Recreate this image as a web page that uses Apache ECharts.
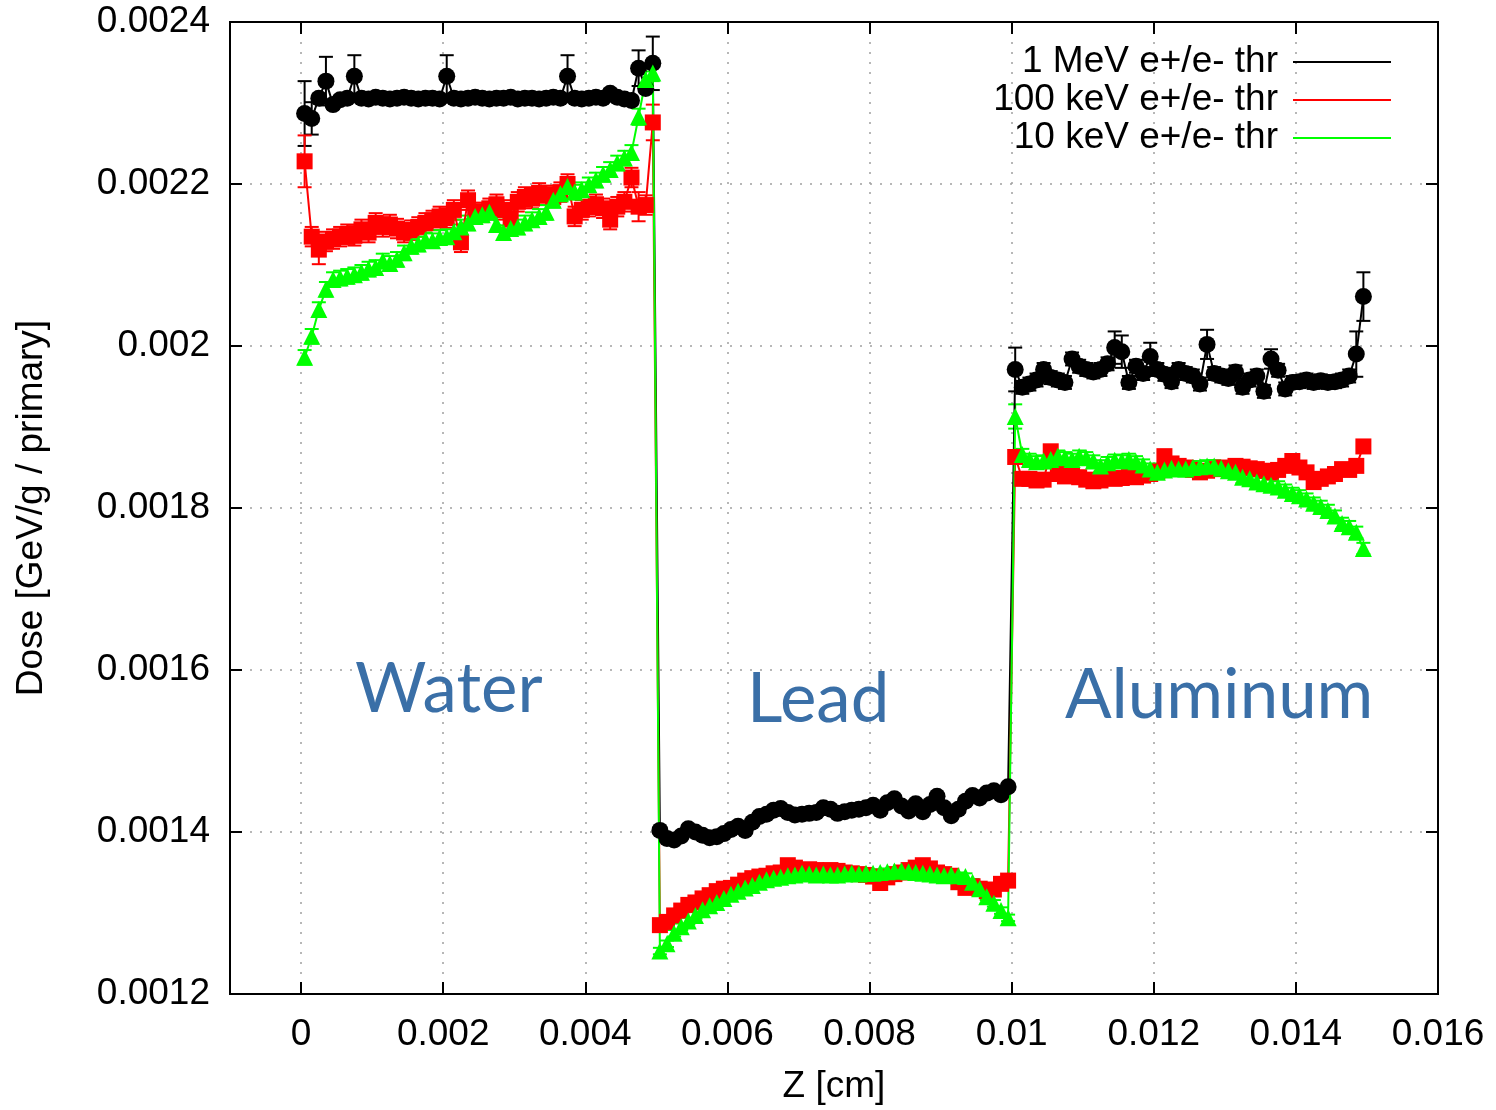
<!DOCTYPE html>
<html>
<head>
<meta charset="utf-8">
<title>Dose vs Z</title>
<script src="https://cdn.jsdelivr.net/npm/echarts@6/dist/echarts.min.js"></script>
<style>
  html, body { margin: 0; padding: 0; background: #fff; }
  #chart { width: 1496px; height: 1110px; }
</style>
</head>
<body>
<div id="chart"></div>
<script>
// bins: 50 per slab, 0.0001 cm wide
var slabStart = [0, 0.005, 0.01];
var binWidth = 0.0001;

var xTicks = [0, 0.002, 0.004, 0.006, 0.008, 0.01, 0.012, 0.014, 0.016];

var seriesNames = ['1 MeV e+/e- thr', '100 keV e+/e- thr', '10 keV e+/e- thr'];

// 1 MeV threshold (black)
var blackWater = [0.002287, 0.002281, 0.002306, 0.002327, 0.002298, 0.002304, 0.002306, 0.002333, 0.002306, 0.002305,
  0.002307, 0.002306, 0.002305, 0.002306, 0.002307, 0.002306, 0.002305, 0.002306, 0.002306, 0.002305,
  0.002333, 0.002306, 0.002305, 0.002306, 0.002307, 0.002306, 0.002305, 0.002306, 0.002306, 0.002307,
  0.002305, 0.002306, 0.002306, 0.002305, 0.002306, 0.002307, 0.002306, 0.002333, 0.002306, 0.002305,
  0.002306, 0.002307, 0.002306, 0.002312, 0.002307, 0.002305, 0.002303, 0.002343, 0.002318, 0.002349];
var blackLead = [0.001402, 0.001392, 0.001390, 0.001395, 0.001404, 0.001400, 0.001396, 0.001393, 0.001394, 0.001398,
  0.001403, 0.001407, 0.001402, 0.001412, 0.001419, 0.001422, 0.001427, 0.001429, 0.001424, 0.001421,
  0.001422, 0.001423, 0.001424, 0.001430, 0.001428, 0.001423, 0.001425, 0.001427, 0.001428, 0.001430,
  0.001433, 0.001427, 0.001436, 0.001441, 0.001432, 0.001426, 0.001435, 0.001425, 0.001434, 0.001444,
  0.001430, 0.001420, 0.001428, 0.001438, 0.001445, 0.001442, 0.001448, 0.001451, 0.001446, 0.001456];
var blackAl = [0.001971, 0.001949, 0.001953, 0.001958, 0.001971, 0.001961, 0.001958, 0.001955, 0.001984, 0.001975,
  0.001971, 0.001968, 0.001971, 0.001978, 0.001998, 0.001993, 0.001955, 0.001975, 0.001966, 0.001987,
  0.001971, 0.001965, 0.001956, 0.001971, 0.001966, 0.001963, 0.001953, 0.002002, 0.001966, 0.001963,
  0.001960, 0.001968, 0.001949, 0.001958, 0.001963, 0.001944, 0.001984, 0.001970, 0.001947, 0.001955,
  0.001956, 0.001958, 0.001955, 0.001957, 0.001955, 0.001956, 0.001958, 0.001963, 0.001990, 0.002061];

// 100 keV threshold (red)
var redWater = [0.002228, 0.002135, 0.002119, 0.002129, 0.002132, 0.002135, 0.002138, 0.002136, 0.002144, 0.002140,
  0.002152, 0.002147, 0.002150, 0.002145, 0.002140, 0.002143, 0.002147, 0.002152, 0.002155, 0.002160,
  0.002158, 0.002168, 0.002128, 0.002180, 0.002163, 0.002165, 0.002170, 0.002175, 0.002168, 0.002156,
  0.002178, 0.002184, 0.002182, 0.002189, 0.002186, 0.002184, 0.002190, 0.002200, 0.002160, 0.002168,
  0.002172, 0.002175, 0.002170, 0.002156, 0.002172, 0.002178, 0.002208, 0.002172, 0.002174, 0.002276];
var redLead = [0.001285, 0.001289, 0.001297, 0.001303, 0.001310, 0.001313, 0.001318, 0.001322, 0.001327, 0.001330,
  0.001331, 0.001335, 0.001340, 0.001343, 0.001345, 0.001346, 0.001349, 0.001350, 0.001359, 0.001356,
  0.001353, 0.001354, 0.001353, 0.001352, 0.001353, 0.001352, 0.001350, 0.001349, 0.001348, 0.001347,
  0.001345, 0.001337, 0.001344, 0.001348, 0.001350, 0.001353, 0.001356, 0.001359, 0.001355, 0.001350,
  0.001348, 0.001346, 0.001338, 0.001331, 0.001333, 0.001330, 0.001327, 0.001329, 0.001336, 0.001340];
var redAl = [0.001863, 0.001836, 0.001836, 0.001834, 0.001835, 0.001870, 0.001842, 0.001839, 0.001841, 0.001838,
  0.001835, 0.001833, 0.001834, 0.001838, 0.001836, 0.001837, 0.001839, 0.001838, 0.001840, 0.001842,
  0.001845, 0.001864, 0.001855, 0.001852, 0.001850, 0.001847, 0.001844, 0.001846, 0.001848, 0.001850,
  0.001849, 0.001852, 0.001851, 0.001849, 0.001848, 0.001846, 0.001844, 0.001847, 0.001852, 0.001858,
  0.001850, 0.001844, 0.001832, 0.001836, 0.001839, 0.001842, 0.001848, 0.001847, 0.001852, 0.001876];

// 10 keV threshold (green)
var greenWater = [0.001986, 0.002012, 0.002045, 0.002070, 0.002082, 0.002084, 0.002086, 0.002088, 0.002091, 0.002095,
  0.002097, 0.002105, 0.002102, 0.002107, 0.002115, 0.002123, 0.002126, 0.002131, 0.002130, 0.002134,
  0.002135, 0.002141, 0.002147, 0.002152, 0.002160, 0.002162, 0.002165, 0.002150, 0.002140, 0.002145,
  0.002147, 0.002152, 0.002156, 0.002160, 0.002165, 0.002180, 0.002188, 0.002197, 0.002190, 0.002193,
  0.002199, 0.002205, 0.002212, 0.002218, 0.002226, 0.002232, 0.002239, 0.002283, 0.002329, 0.002337];
var greenLead = [0.001253, 0.001262, 0.001275, 0.001283, 0.001290, 0.001297, 0.001304, 0.001309, 0.001313, 0.001318,
  0.001323, 0.001327, 0.001331, 0.001334, 0.001338, 0.001341, 0.001343, 0.001344, 0.001346, 0.001347,
  0.001349, 0.001348, 0.001347, 0.001348, 0.001347, 0.001347, 0.001348, 0.001349, 0.001348, 0.001349,
  0.001349, 0.001350, 0.001351, 0.001352, 0.001352, 0.001351, 0.001350, 0.001349, 0.001348, 0.001347,
  0.001346, 0.001347, 0.001346, 0.001345, 0.001338, 0.001330, 0.001320, 0.001312, 0.001303, 0.001294];
var greenAl = [0.001913, 0.001866, 0.001860, 0.001857, 0.001858, 0.001860, 0.001864, 0.001862, 0.001860, 0.001864,
  0.001862, 0.001858, 0.001852, 0.001856, 0.001859, 0.001858, 0.001860, 0.001857, 0.001853, 0.001848,
  0.001844, 0.001847, 0.001849, 0.001848, 0.001848, 0.001850, 0.001851, 0.001852, 0.001852, 0.001849,
  0.001846, 0.001844, 0.001838, 0.001836, 0.001832, 0.001830, 0.001828, 0.001826, 0.001822, 0.001818,
  0.001815, 0.001811, 0.001806, 0.001802, 0.001797, 0.001790, 0.001781, 0.001777, 0.001770, 0.001750];

// statistical errors: typical value per slab, plus the larger ones [point index, error]
var blackErr = [0.000005, 0.000004, 0.000008];
var blackErrBig = [[0, 0.00004], [1, 0.00002], [3, 0.00003], [7, 0.000026], [20, 0.000026], [37, 0.000026],
  [47, 0.000022], [49, 0.000033], [100, 0.000027], [114, 0.00002], [115, 0.00002], [119, 0.000017],
  [127, 0.000018], [136, 0.000012], [148, 0.000028], [149, 0.00003]];
var redErr = [0.000012, 0.000004, 0.000006];
var redErrBig = [[0, 0.000032], [2, 0.000018], [47, 0.000018], [49, 0.000022]];
var greenErr = [0.000009, 0.000004, 0.000007];
var greenErrBig = [[47, 0.00001], [48, 0.00001], [49, 0.00001], [100, 0.000015]];

var font = 'Liberation Sans, Arial, Helvetica, sans-serif';
var fsize = 37;

function buildPoints(slabs, errs, big) {
  var pts = [];
  slabs.forEach(function (vals, s) {
    vals.forEach(function (v, i) {
      pts.push([slabStart[s] + (i + 0.5) * binWidth, v, errs[s]]);
    });
  });
  big.forEach(function (b) { pts[b[0]][2] = b[1]; });
  return pts;
}

var sets = [
  { name: seriesNames[0], color: '#000000', symbol: 'circle', size: 17,
    pts: buildPoints([blackWater, blackLead, blackAl], blackErr, blackErrBig) },
  { name: seriesNames[1], color: '#ff0000', symbol: 'rect', size: 16,
    pts: buildPoints([redWater, redLead, redAl], redErr, redErrBig) },
  { name: seriesNames[2], color: '#00ff00', symbol: 'triangle', size: 17,
    pts: buildPoints([greenWater, greenLead, greenAl], greenErr, greenErrBig) }
];

function errorBars(color) {
  return function (params, api) {
    var x = api.value(0), y = api.value(1), e = api.value(2);
    var top = api.coord([x, y + e]);
    var bot = api.coord([x, y - e]);
    var w = 7;
    var st = { stroke: color, lineWidth: 2 };
    return {
      type: 'group',
      children: [
        { type: 'line', shape: { x1: top[0], y1: top[1], x2: bot[0], y2: bot[1] }, style: st },
        { type: 'line', shape: { x1: top[0] - w, y1: top[1], x2: top[0] + w, y2: top[1] }, style: st },
        { type: 'line', shape: { x1: bot[0] - w, y1: bot[1], x2: bot[0] + w, y2: bot[1] }, style: st }
      ]
    };
  };
}

var series = [];
sets.forEach(function (s) {
  series.push({
    type: 'custom',
    renderItem: errorBars(s.color),
    data: s.pts,
    encode: { x: 0, y: 1 },
    itemStyle: { color: s.color },
    silent: true,
    z: 2
  });
  series.push({
    type: 'line',
    name: s.name,
    data: s.pts.map(function (p) { return [p[0], p[1]]; }),
    color: s.color,
    symbol: s.symbol,
    symbolSize: s.size,
    showAllSymbol: true,
    lineStyle: { color: s.color, width: 2 },
    itemStyle: { color: s.color },
    z: 2
  });
});

function fmt(v) { return String(+v.toFixed(5)); }

var tickStyle = { show: true, inside: true, length: 12, lineStyle: { color: '#000', width: 2 } };
var gridLine = { show: true, lineStyle: { color: '#a0a0a0', width: 1.5, type: [2, 8] } };

var chart = echarts.init(document.getElementById('chart'));
chart.setOption({
  animation: false,
  backgroundColor: '#fff',
  grid: { left: 230, right: 58, top: 22, bottom: 114, show: true, borderColor: '#000', borderWidth: 2 },
  legend: {
    orient: 'vertical',
    right: 100,
    top: 38,
    align: 'right',
    itemGap: 0,
    itemWidth: 98,
    itemHeight: 2,
    icon: 'rect',
    data: seriesNames,
    textStyle: { fontFamily: font, fontSize: fsize, color: '#000', lineHeight: 38, padding: [0, 10, 0, 0] }
  },
  xAxis: [{
    type: 'value',
    min: -0.001,
    max: 0.016,
    name: 'Z [cm]',
    nameLocation: 'middle',
    nameGap: 74,
    nameTextStyle: { fontFamily: font, fontSize: fsize, color: '#000' },
    axisLine: { show: true, onZero: false, lineStyle: { color: '#000', width: 2 } },
    axisTick: Object.assign({ customValues: xTicks }, tickStyle),
    axisLabel: { customValues: xTicks, formatter: fmt, margin: 22, fontFamily: font, fontSize: fsize, color: '#000' },
    splitLine: gridLine
  }, {
    type: 'value',
    position: 'top',
    min: -0.001,
    max: 0.016,
    axisLine: { show: true, onZero: false, lineStyle: { color: '#000', width: 2 } },
    axisTick: Object.assign({ customValues: xTicks }, tickStyle),
    axisLabel: { show: false },
    splitLine: { show: false }
  }],
  yAxis: [{
    type: 'value',
    min: 0.0012,
    max: 0.0024,
    interval: 0.0002,
    name: 'Dose [GeV/g / primary]',
    nameLocation: 'middle',
    nameGap: 180,
    nameTextStyle: { fontFamily: font, fontSize: fsize, color: '#000' },
    axisLine: { show: true, onZero: false, lineStyle: { color: '#000', width: 2 } },
    axisTick: tickStyle,
    axisLabel: { formatter: fmt, margin: 20, fontFamily: font, fontSize: fsize, color: '#000' },
    splitLine: gridLine
  }, {
    type: 'value',
    position: 'right',
    min: 0.0012,
    max: 0.0024,
    interval: 0.0002,
    axisLine: { show: true, onZero: false, lineStyle: { color: '#000', width: 2 } },
    axisTick: tickStyle,
    axisLabel: { show: false },
    splitLine: { show: false }
  }],
  graphic: [
    { type: 'text', left: 355, top: 655, z: 10, style: { text: 'Water', fontFamily: 'Lato', fontSize: 69, fill: '#3a6fa7' } },
    { type: 'text', left: 747, top: 665, z: 10, style: { text: 'Lead', fontFamily: 'Lato', fontSize: 69, fill: '#3a6fa7' } },
    { type: 'text', left: 1065, top: 661, z: 10, style: { text: 'Aluminum', fontFamily: 'Lato', fontSize: 69, fill: '#3a6fa7' } }
  ],
  series: series
});
window.addEventListener('resize', function () { chart.resize(); });
</script>
</body>
</html>
